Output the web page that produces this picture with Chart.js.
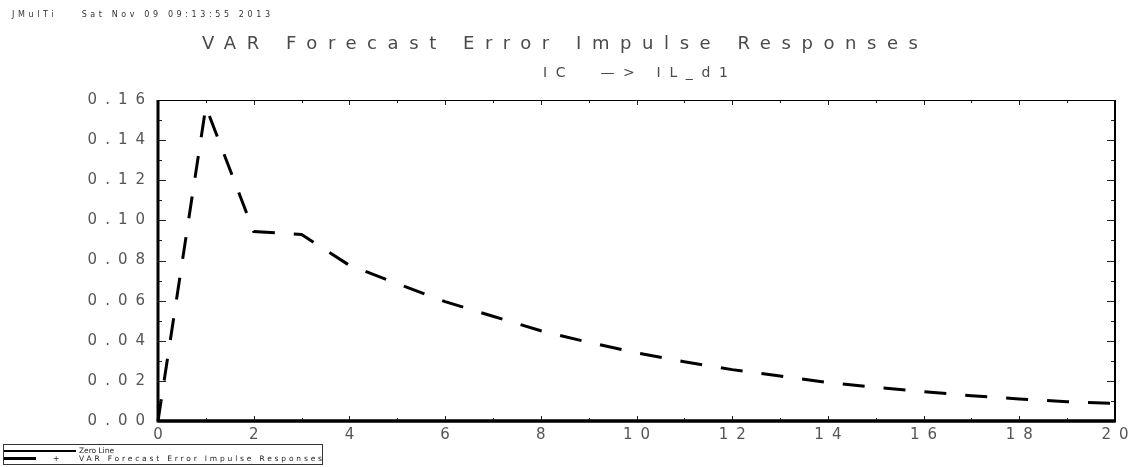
<!DOCTYPE html>
<html lang="en">
<head>
  <meta charset="UTF-8" />
  <title>VAR Forecast Error Impulse Responses</title>
  <style>
    body { margin: 0; background: #fff; }
    #wrap { position: relative; width: 1143px; height: 467px; }
    #wrap canvas { position: absolute; left: 0; top: 0; }
    .txt {
      position: absolute;
      font-family: "DejaVu Sans", sans-serif;
      color: #4a4a4a;
      white-space: nowrap;
      line-height: 1;
    }
    #header { left: 12px; top: 11px; font-size: 8px; color: #333; }
    #title { left: 202px; top: 34px; font-size: 18px; }
    #subtitle { left: 543px; top: 65px; font-size: 14px; }
    #legend {
      position: absolute; left: 3px; top: 444px; width: 320px; height: 21px;
      border: 1px solid #333; box-sizing: border-box;
    }
    #legend .line { position: absolute; background: #000; }
    #legend .txt { font-size: 7.5px; color: #222; }
  </style>
</head>
<body>
  <div id="wrap">
    <canvas id="irf" width="1143" height="467"></canvas>
    <div id="header" class="txt">JMulTi&nbsp;&nbsp;&nbsp;&nbsp;Sat Nov 09 09:13:55 2013</div>
    <div id="title" class="txt">VAR Forecast Error Impulse Responses</div>
    <div id="subtitle" class="txt">IC &nbsp;—&gt; IL_d1</div>
    <div id="legend">
      <div class="line" style="left:0px; top:5px; width:72px; height:2px;"></div>
      <div class="txt" id="leg1" style="left:75px; top:2px;">Zero Line</div>
      <div class="line" style="left:0px; top:12px; width:32px; height:3px;"></div>
      <div class="txt" style="left:49px; top:10px;">+</div>
      <div class="txt" id="leg2" style="left:75px; top:10px;">VAR Forecast Error Impulse Responses</div>
    </div>
  </div>

  <script src="https://cdn.jsdelivr.net/npm/chart.js"></script>
  <script>
    // impulse responses of IL_d1 to a shock in IC, horizons 0..20
    const horizons = [0, 1, 2, 3, 4, 5, 6, 7, 8, 9, 10, 11, 12, 13, 14, 15, 16, 17, 18, 19, 20];
    const responses = [0, 0.1567, 0.0944, 0.0930, 0.0776, 0.0685, 0.0595, 0.0522, 0.0450, 0.0392,
      0.0340, 0.0295, 0.0256, 0.0224, 0.0192, 0.0168, 0.0146, 0.0126, 0.0110, 0.0096, 0.0088];
    const zeroLine = horizons.map(() => 0);

    const xTicks = [0, 2, 4, 6, 8, 10, 12, 14, 16, 18, 20];
    const yTicks = [0, 0.02, 0.04, 0.06, 0.08, 0.10, 0.12, 0.14, 0.16];

    const tickSpacing = 8;

    // stretch the text out to a given visible width
    function spreadTo(el, width) {
      el.style.letterSpacing = "0px";
      const w = el.getBoundingClientRect().width;
      const n = el.textContent.length;
      el.style.letterSpacing = ((width - w) / (n - 1)) + "px";
    }
    spreadTo(document.getElementById("header"), 258);
    spreadTo(document.getElementById("title"), 716);
    spreadTo(document.getElementById("subtitle"), 185);
    spreadTo(document.getElementById("leg1"), 35);
    spreadTo(document.getElementById("leg2"), 243);

    // frame and inward tick marks on all four sides
    const frame = {
      id: "frame",
      beforeDraw(chart) {
        chart.ctx.letterSpacing = tickSpacing + "px";
      },
      afterDraw(chart) {
        const { ctx, chartArea: a } = chart;
        const x = chart.scales.x, y = chart.scales.y;
        ctx.save();
        ctx.strokeStyle = "#222";
        ctx.lineWidth = 1;
        ctx.beginPath();
        for (let i = 0; i <= 20; i++) {
          const px = Math.round(x.getPixelForValue(i)) + 0.5;
          const len = i % 2 === 0 ? 5 : 3;
          ctx.moveTo(px, a.top); ctx.lineTo(px, a.top + len);
          ctx.moveTo(px, a.bottom); ctx.lineTo(px, a.bottom - len);
        }
        for (let i = 0; i <= 16; i++) {
          const py = Math.round(y.getPixelForValue(i / 100)) + 0.5;
          const len = i % 2 === 0 ? 8 : 4;
          ctx.moveTo(a.left, py); ctx.lineTo(a.left + len, py);
          ctx.moveTo(a.right, py); ctx.lineTo(a.right - len, py);
        }
        ctx.stroke();

        ctx.strokeStyle = "#000";
        ctx.lineWidth = 1;
        ctx.beginPath();
        ctx.moveTo(a.left, a.top + 0.5); ctx.lineTo(a.right, a.top + 0.5);
        ctx.stroke();
        ctx.lineWidth = 3;
        ctx.beginPath();
        ctx.moveTo(a.left, a.top); ctx.lineTo(a.left, a.bottom);
        ctx.moveTo(a.left - 1.5, a.bottom); ctx.lineTo(a.right + 1, a.bottom);
        ctx.stroke();
        ctx.lineWidth = 2;
        ctx.beginPath();
        ctx.moveTo(a.right, a.top); ctx.lineTo(a.right, a.bottom + 1);
        ctx.stroke();
        ctx.restore();
      }
    };

    new Chart(document.getElementById("irf"), {
      type: "line",
      data: {
        datasets: [
          {
            label: "Zero Line",
            data: horizons.map((h, i) => ({ x: h, y: zeroLine[i] })),
            borderColor: "#000",
            borderWidth: 3,
            pointRadius: 0,
            clip: 4
          },
          {
            label: "VAR Forecast Error Impulse Responses",
            data: horizons.map((h, i) => ({ x: h, y: responses[i] })),
            borderColor: "#000",
            borderWidth: 3,
            borderDash: [22, 19],
            pointRadius: 0,
            tension: 0,
            clip: 4
          }
        ]
      },
      options: {
        responsive: false,
        animation: false,
        layout: { padding: { top: 100, right: 28, left: 0, bottom: 0 } },
        plugins: {
          legend: { display: false },
          title: { display: false },
          tooltip: { enabled: false }
        },
        scales: {
          x: {
            type: "linear",
            min: 0,
            max: 20,
            afterFit: s => { s.height = 46; },
            afterBuildTicks: s => { s.ticks = xTicks.map(v => ({ value: v })); },
            grid: { display: false, drawTicks: false },
            border: { display: false },
            ticks: {
              autoSkip: false,
              maxRotation: 0,
              padding: 5,
              labelOffset: tickSpacing / 2,
              color: "#555",
              font: { family: "DejaVu Sans", size: 15 },
              callback: v => String(v)
            }
          },
          y: {
            min: 0,
            max: 0.16,
            afterFit: s => { s.width = 158; },
            afterBuildTicks: s => { s.ticks = yTicks.map(v => ({ value: v })); },
            grid: { display: false, drawTicks: false },
            border: { display: false },
            ticks: {
              autoSkip: false,
              padding: 5,
              color: "#555",
              font: { family: "DejaVu Sans", size: 15 },
              callback: v => v.toFixed(2)
            }
          }
        }
      },
      plugins: [frame]
    });
  </script>
</body>
</html>
